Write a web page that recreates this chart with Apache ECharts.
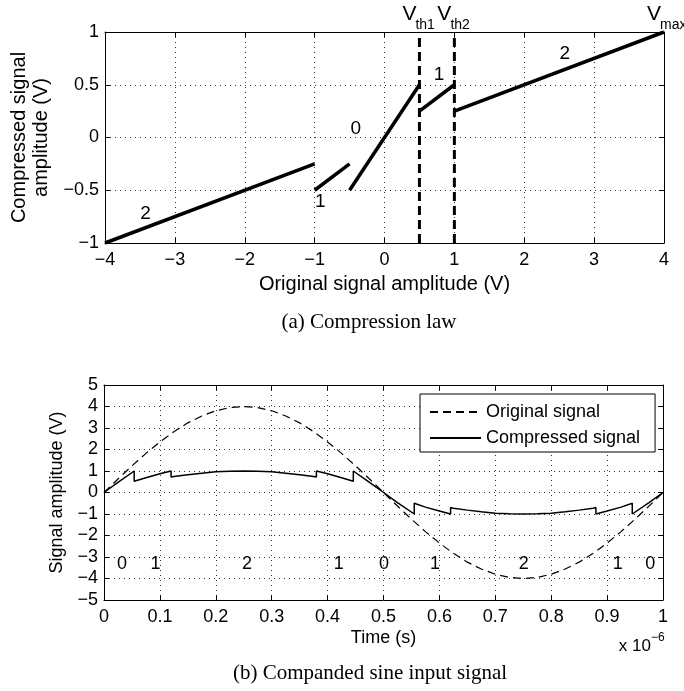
<!DOCTYPE html>
<html><head><meta charset="utf-8">
<script src="https://cdn.jsdelivr.net/npm/echarts@6/dist/echarts.min.js"></script>
<style>html,body{margin:0;padding:0;background:#fff;}#main{width:684px;height:691px;}</style>
</head><body><div id="main"></div>
<script>
// ---- (a) Compression law ----
const lawSegX = [[-4, -1], [-1, -0.5], [-0.5, 0.5], [0.5, 1], [1, 4]];
const lawSegY = [[-1, -0.25], [-0.5, -0.25], [-0.5, 0.5], [0.25, 0.5], [0.25, 1]];
const thresholdX = [0.5, 1];
const thresholdNames = ['th1', 'th2'];
const vmaxX = 4;
const lawLabelText = ['2', '1', '0', '1', '2'];
const lawLabelX = [-3.42, -0.92, -0.41, 0.78, 2.58];
const lawLabelY = [-0.72, -0.61, 0.08, 0.59, 0.79];

// ---- (b) Companded sine input signal (time in units of 1e-6 s) ----
const origTime = [0,0.025,0.05,0.075,0.1,0.125,0.15,0.175,0.2,0.225,0.25,0.275,0.3,0.325,0.35,0.375,0.4,0.425,0.45,0.475,0.5,0.525,0.55,0.575,0.6,0.625,0.65,0.675,0.7,0.725,0.75,0.775,0.8,0.825,0.85,0.875,0.9,0.925,0.95,0.975,1];
const origSignal = [0,0.63,1.24,1.82,2.35,2.83,3.24,3.56,3.80,3.95,4.00,3.95,3.80,3.56,3.24,2.83,2.35,1.82,1.24,0.63,0,-0.63,-1.24,-1.82,-2.35,-2.83,-3.24,-3.56,-3.80,-3.95,-4.00,-3.95,-3.80,-3.56,-3.24,-2.83,-2.35,-1.82,-1.24,-0.63,0];
const compTime = [0,0.025,0.054,0.054,0.075,0.1,0.12,0.12,0.125,0.15,0.175,0.2,0.225,0.25,0.275,0.3,0.325,0.35,0.375,0.38,0.38,0.4,0.425,0.446,0.446,0.475,0.5,0.525,0.555,0.555,0.575,0.6,0.62,0.62,0.625,0.65,0.675,0.7,0.725,0.75,0.775,0.8,0.825,0.85,0.875,0.88,0.88,0.9,0.925,0.945,0.945,0.975,1];
const compSignal = [0,0.47,1.0,0.52,0.69,0.87,1.0,0.72,0.74,0.83,0.90,0.96,0.99,1.0,0.99,0.96,0.90,0.83,0.74,0.72,1.0,0.87,0.69,0.52,1.0,0.47,0,-0.47,-1.0,-0.50,-0.68,-0.86,-1.0,-0.70,-0.73,-0.82,-0.90,-0.96,-0.99,-1.0,-0.99,-0.96,-0.90,-0.82,-0.73,-0.70,-1.0,-0.86,-0.68,-0.50,-1.0,-0.47,0];
const regionText = ['0', '1', '2', '1', '0', '1', '2', '1', '0'];
const regionT = [0.032, 0.092, 0.256, 0.42, 0.501, 0.592, 0.751, 0.919, 0.977];
const regionY = -3.35;

const SANS = "'Liberation Sans', Arial, sans-serif";
const SERIF = "'Liberation Serif', 'Times New Roman', serif";
const fmt = v => String(Math.round(v * 100) / 100).replace('-', '\u2212');

function mainAxis(grid, min, max, interval, pos, fs, margin, name, nameGap, nfs) {
  return {
    gridIndex: grid, type: 'value', min, max, interval, position: pos,
    axisLine: { show: true, onZero: false, lineStyle: { color: '#000', width: 1 } },
    axisTick: { show: true, inside: true, length: 5, lineStyle: { color: '#000' } },
    axisLabel: { show: true, formatter: fmt, fontSize: fs, color: '#000', fontFamily: SANS, margin },
    splitLine: { show: true, lineStyle: { color: '#333', width: 1, type: [1, 4] } },
    name, nameLocation: 'middle', nameGap,
    nameTextStyle: { fontSize: nfs, color: '#000', fontFamily: SANS, lineHeight: nfs + 2 }
  };
}
function boxAxis(grid, min, max, interval, pos) {
  return {
    gridIndex: grid, type: 'value', min, max, interval, position: pos,
    axisLine: { show: true, onZero: false, lineStyle: { color: '#000', width: 1 } },
    axisTick: { show: true, inside: true, length: 5, lineStyle: { color: '#000' } },
    axisLabel: { show: false }, splitLine: { show: false }
  };
}

const textLabel = fs => ({ show: true, position: 'inside', fontSize: fs, color: '#000', opacity: 1, textBorderWidth: 0, fontFamily: SANS });

const series = [];
lawSegX.forEach((xs, i) => {
  series.push({
    type: 'line', xAxisIndex: 0, yAxisIndex: 0, symbol: 'none', silent: true,
    data: xs.map((x, j) => [x, lawSegY[i][j]]),
    itemStyle: { color: '#000' },
    lineStyle: { color: '#000', width: 3.5 }
  });
});
thresholdX.forEach(x => {
  series.push({
    type: 'line', xAxisIndex: 0, yAxisIndex: 0, symbol: 'none', silent: true,
    data: [[x, -1], [x, 1]],
    itemStyle: { color: '#000' },
    lineStyle: { color: '#000', width: 3, type: [9, 5] }
  });
});
series.push({
  type: 'scatter', xAxisIndex: 0, yAxisIndex: 0, silent: true, symbolSize: 0,
  itemStyle: { color: '#000' },
  data: lawLabelX.map((x, i) => ({ value: [x, lawLabelY[i]], label: { formatter: lawLabelText[i] } })),
  label: textLabel(19)
});
series.push({
  name: 'Original signal', type: 'line', xAxisIndex: 2, yAxisIndex: 2, symbol: 'none', silent: true,
  data: origTime.map((t, i) => [t, origSignal[i]]),
  itemStyle: { color: '#000' },
  lineStyle: { color: '#000', width: 1.2, type: [8, 5] }
});
series.push({
  name: 'Compressed signal', type: 'line', xAxisIndex: 2, yAxisIndex: 2, symbol: 'none', silent: true,
  data: compTime.map((t, i) => [t, compSignal[i]]),
  itemStyle: { color: '#000' },
  lineStyle: { color: '#000', width: 1.5 }
});
series.push({
  type: 'scatter', xAxisIndex: 2, yAxisIndex: 2, silent: true, symbolSize: 0,
  itemStyle: { color: '#000' },
  data: regionT.map((t, i) => ({ value: [t, regionY], label: { formatter: regionText[i] } })),
  label: textLabel(18)
});

const option = {
  animation: false,
  backgroundColor: '#fff',
  grid: [
    { left: 105, top: 32, width: 559, height: 211 },
    { left: 104, top: 385, width: 559, height: 215 }
  ],
  xAxis: [
    mainAxis(0, -4, 4, 1, 'bottom', 18, 8, 'Original signal amplitude (V)', 30, 20),
    boxAxis(0, -4, 4, 1, 'top'),
    mainAxis(1, 0, 1, 0.1, 'bottom', 18, 8, 'Time (s)', 28, 18),
    boxAxis(1, 0, 1, 0.1, 'top')
  ],
  yAxis: [
    mainAxis(0, -1, 1, 0.5, 'left', 18, 6, 'Compressed signal\namplitude (V)', 46, 20),
    boxAxis(0, -1, 1, 0.5, 'right'),
    mainAxis(1, -5, 5, 1, 'left', 18, 6, 'Signal amplitude (V)', 27, 18),
    boxAxis(1, -5, 5, 1, 'right')
  ],
  legend: {
    data: ['Original signal', 'Compressed signal'],
    orient: 'vertical', left: 420, top: 394,
    itemWidth: 51, itemHeight: 14, itemGap: 8, itemTextGap: 5,
    padding: [9, 15, 5, 9],
    borderColor: '#000', borderWidth: 1, backgroundColor: '#fff',
    selectedMode: false,
    itemStyle: { color: 'rgba(0,0,0,0)', borderColor: 'rgba(0,0,0,0)', borderWidth: 0 },
    textStyle: { fontSize: 18, color: '#000', fontFamily: SANS }
  },
  series
};

const chart = echarts.init(document.getElementById('main'));
chart.setOption(option);

const g = [];
const vLabels = thresholdX.map((x, i) => [x, thresholdNames[i]]).concat([[vmaxX, 'max']]);
vLabels.forEach(([x, sub]) => {
  const p = chart.convertToPixel({ gridIndex: 0 }, [x, 1]);
  g.push({ type: 'text', x: p[0] - 3, y: p[1] - 18, style: { text: 'V', align: 'right', verticalAlign: 'middle', fontSize: 21, fill: '#000', fontFamily: SANS } });
  g.push({ type: 'text', x: p[0] - 4, y: p[1] - 7, style: { text: sub, align: 'left', verticalAlign: 'middle', fontSize: 14, fill: '#000', fontFamily: SANS } });
});
const pe = chart.convertToPixel({ gridIndex: 1 }, [1, -5]);
g.push({ type: 'text', x: pe[0] - 12, y: pe[1] + 46, style: { text: 'x 10', align: 'right', verticalAlign: 'middle', fontSize: 17, fill: '#000', fontFamily: SANS } });
g.push({ type: 'text', x: pe[0] - 12, y: pe[1] + 38, style: { text: '\u22126', align: 'left', verticalAlign: 'middle', fontSize: 12, fill: '#000', fontFamily: SANS } });
g.push({ type: 'text', x: 369, y: 322, style: { text: '(a) Compression law', align: 'center', verticalAlign: 'middle', fontSize: 21, fill: '#000', fontFamily: SERIF } });
g.push({ type: 'text', x: 370, y: 673, style: { text: '(b) Companded sine input signal', align: 'center', verticalAlign: 'middle', fontSize: 21, fill: '#000', fontFamily: SERIF } });
chart.setOption({ graphic: g });
</script></body></html>
